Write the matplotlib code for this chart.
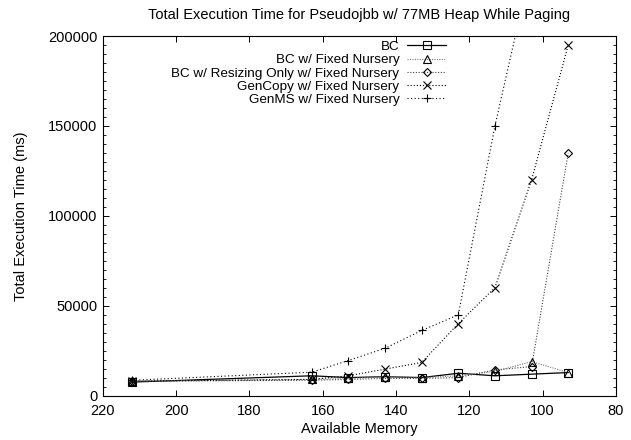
import matplotlib.pyplot as plt
from matplotlib.ticker import MultipleLocator, ScalarFormatter

plt.rcParams['font.family'] = ['Liberation Sans', 'DejaVu Sans']
plt.rcParams['font.size'] = 10.5

memory = [212, 163, 153, 143, 133, 123, 113, 103, 93]
bc = [7500, 11000, 10000, 10500, 10000, 12400, 11000, 11900, 12800]
bc_fixed = [8000, 9000, 9500, 10500, 10000, 11000, 13400, 18900, 12800]
bc_resize = [8000, 8500, 9000, 9500, 9500, 10000, 14300, 16100, 135000]
gencopy = [8000, 9000, 11000, 14700, 18400, 40000, 60000, 120000, 195000]
genms_x = [212, 163, 153, 143, 133, 123, 113, 103]
genms = [8500, 13000, 19500, 26300, 36200, 44900, 150000, 240000]

fig = plt.figure(figsize=(6.31, 4.40), dpi=100)
ax = fig.add_axes([0.163, 0.101, 0.813, 0.817])

ms = 5.5
ax.plot(memory, bc, color='black', lw=0.9, marker='s', ms=ms, mfc='none',
        mew=0.8, label='BC')
ax.plot(memory, bc_fixed, color='#777777', lw=0.8, ls=(0, (1, 1.2)), marker='^',
        ms=ms, mfc='none', mec='black', mew=0.8, label='BC w/ Fixed Nursery')
ax.plot(memory, bc_resize, color='#444444', lw=0.8, ls=(0, (1, 1.5)), marker='D',
        ms=4.2, mfc='none', mec='black', mew=0.8,
        label='BC w/ Resizing Only w/ Fixed Nursery')
ax.plot(memory, gencopy, color='black', lw=0.8, ls=(0, (1, 1.8)), marker='x',
        ms=ms, mew=0.8, label='GenCopy w/ Fixed Nursery')
ax.plot(genms_x, genms, color='black', lw=0.8, ls=(0, (1, 2.2)), marker='+',
        ms=ms + 0.5, mew=0.8, label='GenMS w/ Fixed Nursery')

ax.set_xlim(220, 80)
ax.set_ylim(0, 200000)
ax.xaxis.set_major_locator(MultipleLocator(20))
ax.yaxis.set_major_locator(MultipleLocator(50000))
ax.yaxis.set_minor_locator(MultipleLocator(5000))
fmt = ScalarFormatter(useOffset=False)
fmt.set_scientific(False)
ax.yaxis.set_major_formatter(fmt)
ax.tick_params(which='both', direction='in', top=True, right=True, labelsize=10.5)
ax.tick_params(which='major', length=4, width=0.7, pad=4)
ax.tick_params(axis='x', which='major', pad=6)
ax.tick_params(which='minor', length=2, width=0.6)
for s in ax.spines.values():
    s.set_linewidth(0.8)

ax.set_title('Total Execution Time for Pseudojbb w/ 77MB Heap While Paging',
             fontsize=10.5, pad=12)
ax.set_xlabel('Available Memory', fontsize=10.5, labelpad=3)
ax.set_ylabel('Total Execution Time (ms)', fontsize=10.5, labelpad=14)

ax.legend(loc='upper right', bbox_to_anchor=(0.683, 1.006), frameon=False,
          markerfirst=False, borderpad=0, handlelength=2.9, handletextpad=0.6,
          labelspacing=0.06, fontsize=9.7)

fig.savefig('out.png', dpi=100)
